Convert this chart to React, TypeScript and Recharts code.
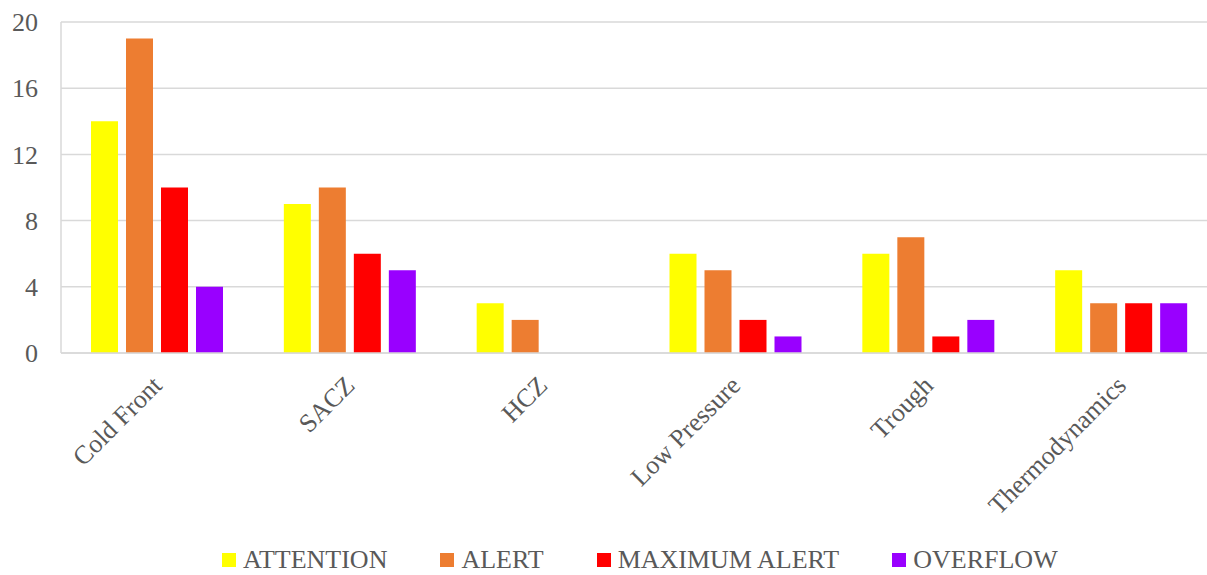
import { Bar, BarChart, CartesianGrid, Legend, XAxis, YAxis } from "recharts"

const categories = ["Cold Front", "SACZ", "HCZ", "Low Pressure", "Trough", "Thermodynamics"]
const attention = [14, 9, 3, 6, 6, 5]
const alert = [19, 10, 2, 5, 7, 3]
const maximumAlert = [10, 6, 0, 2, 1, 3]
const overflow = [4, 5, 0, 1, 2, 3]
const yTicks = [0, 4, 8, 12, 16, 20]

const series = [
  { key: "attention", name: "ATTENTION", color: "#FFFF00" },
  { key: "alert", name: "ALERT", color: "#ED7D31" },
  { key: "maximumAlert", name: "MAXIMUM ALERT", color: "#FF0000" },
  { key: "overflow", name: "OVERFLOW", color: "#9900FF" },
]

const data = categories.map((c, i) => ({
  category: c,
  attention: attention[i],
  alert: alert[i],
  maximumAlert: maximumAlert[i],
  overflow: overflow[i],
}))

const FONT = "'Liberation Serif', 'Times New Roman', serif"
const TEXT = "#595959"
const GRID = "#d9d9d9"

function CategoryTick(props: any) {
  const { x, y, payload } = props
  return (
    <text
      x={x + 6}
      y={y + 26}
      transform={`rotate(-45, ${x + 6}, ${y + 26})`}
      textAnchor="end"
      fill={TEXT}
      fontSize={26}
      fontFamily={FONT}
    >
      {payload.value}
    </text>
  )
}

// legend drawn as plain html so the spacing can follow the original
function LegendRow() {
  return (
    <div style={{ display: "flex", alignItems: "center", height: 30, paddingTop: 6, paddingLeft: 222, fontFamily: FONT, fontSize: 26, color: TEXT, lineHeight: "30px" }}>
      {series.map((s, i) => (
        <div key={s.key} style={{ display: "flex", alignItems: "center", marginRight: i < series.length - 1 ? 53 : 0 }}>
          <span style={{ width: 14, height: 14, background: s.color, display: "inline-block", marginRight: 7 }} />
          <span>{s.name}</span>
        </div>
      ))}
    </div>
  )
}

export default function App() {
  return (
    <div style={{ position: "absolute", left: 0, top: 0, width: 1207, height: 575, overflow: "hidden", background: "#fff" }}>
      <BarChart
        width={1225}
        height={575}
        data={data}
        margin={{ top: 22, right: 7, left: 0, bottom: 0 }}
        barGap={8}
        barCategoryGap={30}
      >
        <CartesianGrid vertical={false} stroke={GRID} strokeWidth={1.5} />
        <XAxis
          dataKey="category"
          height={186}
          interval={0}
          tickLine={false}
          axisLine={{ stroke: GRID, strokeWidth: 1.5 }}
          tick={<CategoryTick />}
        />
        <YAxis
          width={61}
          domain={[0, 20]}
          ticks={yTicks}
          tickLine={false}
          tickSize={0}
          tickMargin={23}
          axisLine={{ stroke: GRID, strokeWidth: 1.5 }}
          tick={{ fill: TEXT, fontSize: 26, fontFamily: FONT }}
        />
        <Legend
          verticalAlign="bottom"
          height={36}
          wrapperStyle={{ left: 0, width: 1225, bottom: 0 }}
          content={() => <LegendRow />}
        />
        {series.map((s) => (
          <Bar key={s.key} dataKey={s.key} name={s.name} fill={s.color} isAnimationActive={false} />
        ))}
      </BarChart>
    </div>
  )
}
